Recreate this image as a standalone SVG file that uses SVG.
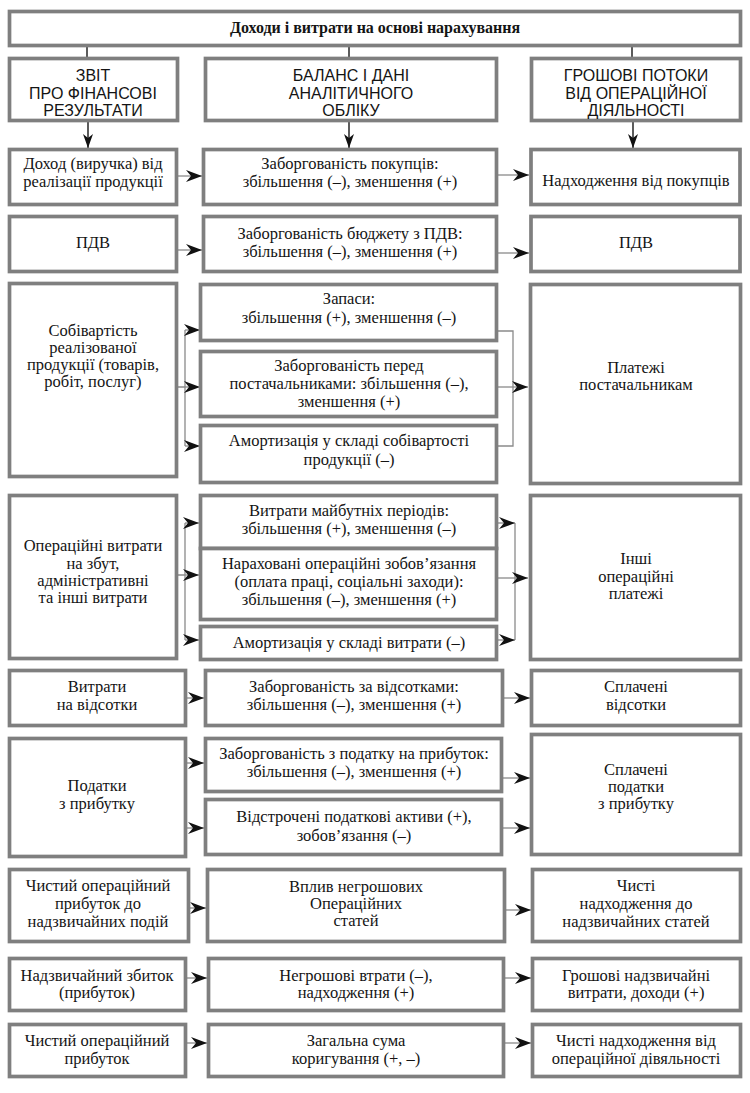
<svg xmlns="http://www.w3.org/2000/svg" width="750" height="1093" viewBox="0 0 750 1093">
<style>
.bg{fill:#fff}
.box{fill:#fff;stroke:#7f7f7f;stroke-width:3.7}
.t{font-family:"Liberation Serif","Times New Roman",serif;font-size:16.5px;fill:#141414;text-anchor:middle}
.h{font-family:"Liberation Sans",Arial,sans-serif;font-size:16px;fill:#141414;text-anchor:middle}
.ttl{font-family:"Liberation Serif","Times New Roman",serif;font-size:16px;font-weight:bold;fill:#141414;text-anchor:middle}
.c{fill:none;stroke:#8a8a8a;stroke-width:1.3}
.tick{fill:none;stroke:#333;stroke-width:1.6}
.a{marker-end:url(#ah)}
.d{marker-end:url(#ad)}
</style>
<defs>
<marker id="ah" markerUnits="userSpaceOnUse" markerWidth="16" markerHeight="12" refX="16" refY="6" orient="auto">
<path d="M0,0 L16,6 L0,12 L5,6 Z" fill="#111"/>
</marker>
<marker id="ad" markerUnits="userSpaceOnUse" markerWidth="14" markerHeight="10" refX="14" refY="5" orient="auto">
<path d="M0,0 L14,5 L0,10 L4,5 Z" fill="#111"/>
</marker>
</defs>
<rect class="bg" width="750" height="1093"/>

<g id="connectors">
<path class="tick" d="M87,47 V57 M349,47 V57 M632,47 V57"/>
<path class="tick d" d="M88,122 V148"/>
<path class="tick d" d="M349,122 V148"/>
<path class="tick d" d="M633,122 V148"/>
<path class="c a" d="M178,176 H202"/>
<path class="c a" d="M498,175 H529"/>
<path class="c a" d="M178,250 H202"/>
<path class="c a" d="M498,253 H529"/>
<path class="c" d="M178,387 H185 M185,330 V446"/>
<path class="c a" d="M185,330 H200"/>
<path class="c a" d="M185,387 H200"/>
<path class="c a" d="M185,446 H200"/>
<path class="c" d="M498,331 H513 V446 H498"/>
<path class="c a" d="M498,387 H528"/>
<path class="c" d="M178,575 H185 M185,523 V640"/>
<path class="c a" d="M185,523 H199"/>
<path class="c a" d="M185,575 H199"/>
<path class="c a" d="M185,640 H199"/>
<path class="c" d="M515,523 V640"/>
<path class="c a" d="M498,523 H515"/>
<path class="c a" d="M498,640 H515"/>
<path class="c a" d="M498,578 H528"/>
<path class="c a" d="M187,698 H204"/>
<path class="c a" d="M504,698 H530"/>
<path class="c a" d="M187,763 H204"/>
<path class="c a" d="M187,828 H204"/>
<path class="c a" d="M503,778 H530"/>
<path class="c a" d="M503,828 H530"/>
<path class="c a" d="M190,908 H206"/>
<path class="c a" d="M506,910 H531"/>
<path class="c a" d="M187,978 H207"/>
<path class="c a" d="M505,978 H531"/>
<path class="c a" d="M187,1043 H207"/>
<path class="c a" d="M505,1043 H531"/>
</g>

<g id="title">
<rect class="box" x="9.5" y="11.5" width="731" height="34"/>
<text class="ttl" x="375" y="33">Доходи і витрати на основі нарахування</text>
</g>

<g id="hdr-left">
<rect class="box" x="9.5" y="58.5" width="168" height="62"/>
<text class="h" x="93" y="81">ЗВІТ</text>
<text class="h" x="93" y="99">ПРО ФІНАНСОВІ</text>
<text class="h" x="93" y="116">РЕЗУЛЬТАТИ</text>
</g>
<g id="hdr-mid">
<rect class="box" x="205.5" y="58.5" width="291" height="62"/>
<text class="h" x="351" y="81">БАЛАНС І ДАНІ</text>
<text class="h" x="351" y="99">АНАЛІТИЧНОГО</text>
<text class="h" x="351" y="116">ОБЛІКУ</text>
</g>
<g id="hdr-right">
<rect class="box" x="531.5" y="58.5" width="209" height="62"/>
<text class="h" x="636" y="81">ГРОШОВІ ПОТОКИ</text>
<text class="h" x="636" y="99">ВІД ОПЕРАЦІЙНОЇ</text>
<text class="h" x="636" y="116">ДІЯЛЬНОСТІ</text>
</g>

<g id="r1-left">
<rect class="box" x="9.5" y="149.5" width="167" height="55"/>
<text class="t" x="93" y="169">Доход (виручка) від</text>
<text class="t" x="93" y="187">реалізації продукції</text>
</g>
<g id="r1-mid">
<rect class="box" x="203.5" y="149.5" width="293" height="55"/>
<text class="t" x="350" y="169">Заборгованість покупців:</text>
<text class="t" x="350" y="187">збільшення (–), зменшення (+)</text>
</g>
<g id="r1-right">
<rect class="box" x="531" y="149.5" width="209" height="55"/>
<text class="t" x="636" y="186">Надходження від покупців</text>
</g>

<g id="r2-left">
<rect class="box" x="9.5" y="216.5" width="167" height="55"/>
<text class="t" x="93" y="248">ПДВ</text>
</g>
<g id="r2-mid">
<rect class="box" x="203.5" y="216.5" width="293" height="55"/>
<text class="t" x="350" y="239">Заборгованість бюджету з ПДВ:</text>
<text class="t" x="350" y="257">збільшення (–), зменшення (+)</text>
</g>
<g id="r2-right">
<rect class="box" x="531" y="216.5" width="209" height="55"/>
<text class="t" x="636" y="248">ПДВ</text>
</g>

<g id="r3-left">
<rect class="box" x="9.5" y="283.5" width="167" height="193"/>
<text class="t" x="93" y="336">Собівартість</text>
<text class="t" x="93" y="353">реалізованої</text>
<text class="t" x="93" y="370">продукції (товарів,</text>
<text class="t" x="93" y="387">робіт, послуг)</text>
</g>
<g id="r3-mid1">
<rect class="box" x="200.5" y="284.5" width="296" height="56"/>
<text class="t" x="349" y="304">Запаси:</text>
<text class="t" x="349" y="323">збільшення (+), зменшення (–)</text>
</g>
<g id="r3-mid2">
<rect class="box" x="200.5" y="351.5" width="296" height="65"/>
<text class="t" x="349" y="371">Заборгованість перед</text>
<text class="t" x="349" y="389">постачальниками: збільшення (–),</text>
<text class="t" x="349" y="407">зменшення (+)</text>
</g>
<g id="r3-mid3">
<rect class="box" x="200.5" y="425.5" width="296" height="57"/>
<text class="t" x="349" y="446">Амортизація у складі собівартості</text>
<text class="t" x="349" y="465">продукції (–)</text>
</g>
<g id="r3-right">
<rect class="box" x="530.5" y="284.5" width="210" height="199"/>
<text class="t" x="636" y="373">Платежі</text>
<text class="t" x="636" y="390">постачальникам</text>
</g>

<g id="r4-left">
<rect class="box" x="9.5" y="495.5" width="167" height="163"/>
<text class="t" x="93" y="551">Операційні витрати</text>
<text class="t" x="93" y="569">на збут,</text>
<text class="t" x="93" y="586">адміністративні</text>
<text class="t" x="93" y="603">та інші витрати</text>
</g>
<g id="r4-mid1">
<rect class="box" x="200.5" y="495.5" width="296" height="53"/>
<text class="t" x="349" y="516">Витрати майбутніх періодів:</text>
<text class="t" x="349" y="534">збільшення (+), зменшення (–)</text>
</g>
<g id="r4-mid2">
<rect class="box" x="200.5" y="548.5" width="296" height="71"/>
<text class="t" x="349" y="569">Нараховані операційні зобов’язання</text>
<text class="t" x="349" y="587">(оплата праці, соціальні заходи):</text>
<text class="t" x="349" y="605">збільшення (–), зменшення (+)</text>
</g>
<g id="r4-mid3">
<rect class="box" x="200.5" y="626.5" width="296" height="33"/>
<text class="t" x="349" y="648">Амортизація у складі витрати (–)</text>
</g>
<g id="r4-right">
<rect class="box" x="530.5" y="495.5" width="210" height="164"/>
<text class="t" x="636" y="564">Інші</text>
<text class="t" x="636" y="582">операційні</text>
<text class="t" x="636" y="599">платежі</text>
</g>

<g id="r5-left">
<rect class="box" x="9.5" y="670.5" width="176" height="55"/>
<text class="t" x="97" y="692">Витрати</text>
<text class="t" x="97" y="710">на відсотки</text>
</g>
<g id="r5-mid">
<rect class="box" x="205.5" y="670.5" width="297" height="55"/>
<text class="t" x="354" y="692">Заборгованість за відсотками:</text>
<text class="t" x="354" y="710">збільшення (–), зменшення (+)</text>
</g>
<g id="r5-right">
<rect class="box" x="531.5" y="670.5" width="209" height="55"/>
<text class="t" x="636" y="692">Сплачені</text>
<text class="t" x="636" y="710">відсотки</text>
</g>

<g id="r6-left">
<rect class="box" x="9.5" y="738.5" width="176" height="118"/>
<text class="t" x="97" y="791">Податки</text>
<text class="t" x="97" y="809">з прибутку</text>
</g>
<g id="r6-mid1">
<rect class="box" x="205.5" y="738.5" width="296" height="53"/>
<text class="t" x="354" y="759">Заборгованість з податку на прибуток:</text>
<text class="t" x="354" y="777">збільшення (–), зменшення (+)</text>
</g>
<g id="r6-mid2">
<rect class="box" x="205.5" y="799.5" width="296" height="55"/>
<text class="t" x="354" y="822">Відстрочені податкові активи (+),</text>
<text class="t" x="354" y="841">зобов’язання (–)</text>
</g>
<g id="r6-right">
<rect class="box" x="531.5" y="734.5" width="209" height="120"/>
<text class="t" x="636" y="775">Сплачені</text>
<text class="t" x="636" y="792">податки</text>
<text class="t" x="636" y="809">з прибутку</text>
</g>

<g id="r7-left">
<rect class="box" x="9.5" y="869.5" width="179" height="72"/>
<text class="t" x="98" y="891">Чистий операційний</text>
<text class="t" x="98" y="909">прибуток до</text>
<text class="t" x="98" y="927">надзвичайних подій</text>
</g>
<g id="r7-mid">
<rect class="box" x="207.5" y="869.5" width="297" height="72"/>
<text class="t" x="356" y="892">Вплив негрошових</text>
<text class="t" x="356" y="909">Операційних</text>
<text class="t" x="356" y="926">статей</text>
</g>
<g id="r7-right">
<rect class="box" x="532.5" y="869.5" width="208" height="72"/>
<text class="t" x="636" y="891">Чисті</text>
<text class="t" x="636" y="909">надходження до</text>
<text class="t" x="636" y="927">надзвичайних статей</text>
</g>

<g id="r8-left">
<rect class="box" x="9.5" y="958.5" width="176" height="52"/>
<text class="t" x="97" y="981">Надзвичайний збиток</text>
<text class="t" x="97" y="998">(прибуток)</text>
</g>
<g id="r8-mid">
<rect class="box" x="208.5" y="958.5" width="295" height="52"/>
<text class="t" x="356" y="981">Негрошові втрати (–),</text>
<text class="t" x="356" y="998">надходження (+)</text>
</g>
<g id="r8-right">
<rect class="box" x="532.5" y="958.5" width="208" height="52"/>
<text class="t" x="636" y="981">Грошові надзвичайні</text>
<text class="t" x="636" y="998">витрати, доходи (+)</text>
</g>

<g id="r9-left">
<rect class="box" x="9.5" y="1024.5" width="176" height="52"/>
<text class="t" x="97" y="1046">Чистий операційний</text>
<text class="t" x="97" y="1064">прибуток</text>
</g>
<g id="r9-mid">
<rect class="box" x="208.5" y="1024.5" width="295" height="52"/>
<text class="t" x="356" y="1046">Загальна сума</text>
<text class="t" x="356" y="1064">коригування (+, –)</text>
</g>
<g id="r9-right">
<rect class="box" x="532.5" y="1024.5" width="208" height="52"/>
<text class="t" x="636" y="1046">Чисті надходження від</text>
<text class="t" x="636" y="1064">операційної дівяльності</text>
</g>
</svg>
